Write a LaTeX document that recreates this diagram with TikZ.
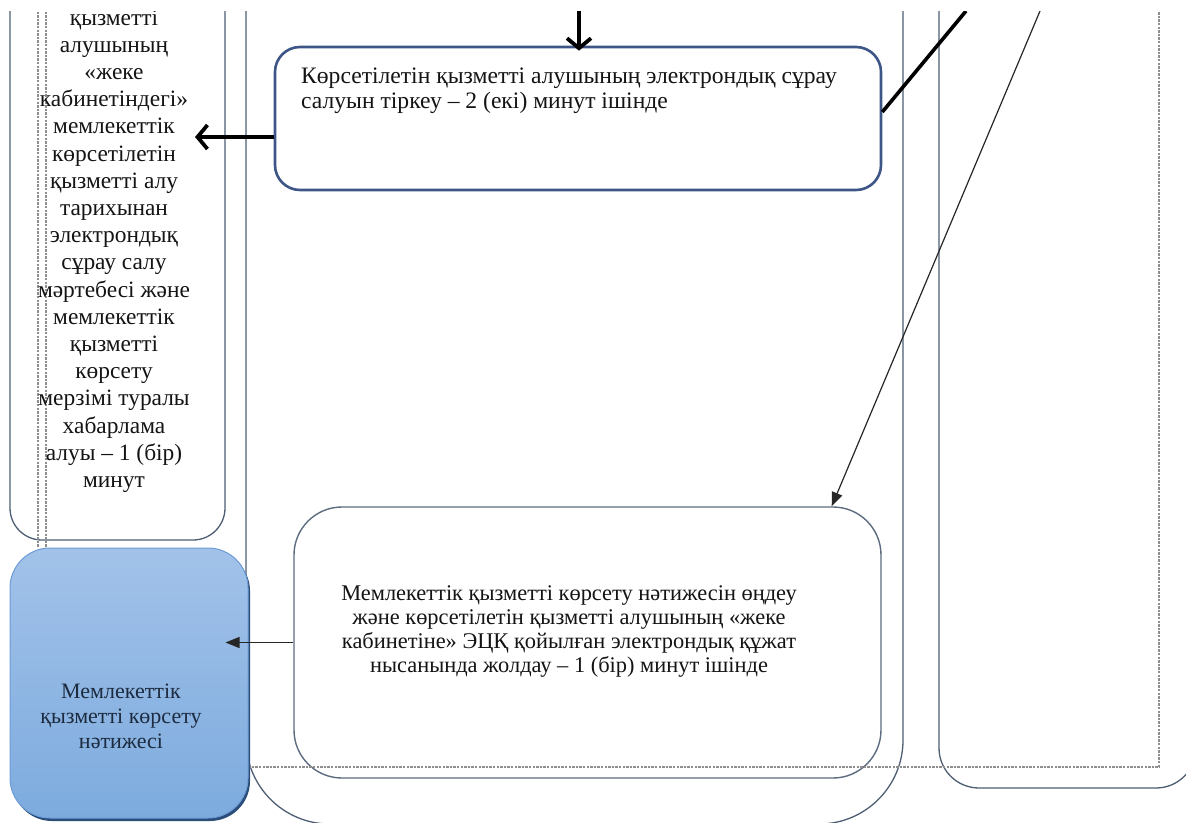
\documentclass[tikz,border=0pt]{standalone}
\usepackage{fontspec}
\setmainfont{Liberation Serif}
\usetikzlibrary{arrows.meta,calc,shadows}

\definecolor{lanec}{HTML}{4D5D73}
\definecolor{boxAc}{HTML}{3E5587}
\definecolor{boxBc}{HTML}{5D6C80}
\definecolor{dashc}{HTML}{8E8E8E}
\definecolor{bluetop}{HTML}{A2C2E9}
\definecolor{bluemid}{HTML}{4A87CE}
\definecolor{bluebot}{HTML}{7DABDE}
\definecolor{blueedge}{HTML}{6D9BD5}
\definecolor{blueshadow}{HTML}{2A4D7A}
\definecolor{inkc}{HTML}{141414}
\definecolor{inkblue}{HTML}{1C2B3F}

\newcommand{\linesC}[1]{\begin{tabular}[t]{@{}c@{}}#1\end{tabular}}
\newcommand{\linesL}[1]{\begin{tabular}[t]{@{}l@{}}#1\end{tabular}}

\begin{document}
\begin{tikzpicture}[x=1pt,y=-1pt,
  lane/.style={draw=lanec,line width=1.3pt},
  dashborder/.style={draw=dashc,line width=2pt,dash pattern=on 2.4pt off 1.2pt},
  stepbox/.style={draw=boxAc,line width=2.6pt,rounded corners=25pt,inner sep=0pt,fill=white},
  procbox/.style={draw=boxBc,line width=1.4pt,rounded corners=48pt,inner sep=0pt,fill=white},
  resultbox/.style={draw=blueedge,line width=1pt,rounded corners=40pt,inner sep=0pt,
    top color=bluetop,middle color=bluemid,bottom color=bluebot,
    drop shadow={shadow xshift=2pt,shadow yshift=-3pt,fill=blueshadow,opacity=1}},
  txt/.style={inner sep=0pt,text=inkc},
  heavyarrow/.style={draw=black,line width=3.6pt,-{Straight Barb[length=10pt,width=24pt,line width=3.8pt]}},
  heavyline/.style={draw=black,line width=3.6pt},
  lightarrow/.style={draw=black!85,line width=1.2pt,-{Triangle[length=14pt,width=11pt]}}
]
\useasboundingbox (0,0) rectangle (1186,822);
\begin{scope}
\clip (0,11) rectangle (1186,830);

% swimlanes
\draw[lane,rounded corners=32pt] (10,-100) -- (10,540) -- (225,540) -- (225,-100);
\draw[lane,rounded corners=84pt] (246,-100) -- (246,824) -- (903,824) -- (903,-100);
\draw[lane,rounded corners=40pt] (939,-100) -- (939,788) -- (1196,788) -- (1196,-100);

% process steps
\node[stepbox,minimum width=606pt,minimum height=143pt] (A) at (578,118.5) {};
\node[txt,anchor=base west,font=\fontsize{23.6}{25}\selectfont] (Atext) at (301,83)
  {\linesL{Көрсетілетін қызметті алушының электрондық сұрау\\
  салуын тіркеу – 2 (екі) минут ішінде}};

\node[procbox,minimum width=587pt,minimum height=271pt] (B) at (587.5,642.5) {};
\node[txt,anchor=base,font=\fontsize{22.4}{24}\selectfont] (Btext) at (569,600)
  {\linesC{Мемлекеттік қызметті көрсету нәтижесін өңдеу\\
  және көрсетілетін қызметті алушының «жеке\\
  кабинетіне» ЭЦҚ қойылған электрондық құжат\\
  нысанында жолдау – 1 (бір) минут ішінде}};

% page frame
\draw[dashborder] (46,-100) -- (46,767) -- (1159,767) -- (1159,-100);
\draw[dashborder] (38,-100) -- (38,548);

% notification text in the left lane
\node[txt,anchor=base,font=\fontsize{23.4}{27.2}\selectfont] (Ltext) at (114,25)
  {\linesC{қызметті\\ алушының\\ «жеке\\ кабинетіндегі»\\ мемлекеттік\\
  көрсетілетін\\ қызметті алу\\ тарихынан\\ электрондық\\ сұрау салу\\
  мәртебесі және\\ мемлекеттік\\ қызметті\\ көрсету\\ мерзімі туралы\\
  хабарлама\\ алуы – 1 (бір)\\ минут}};

% connectors
\coordinate (inA) at (579,11);
\draw[heavyarrow] (inA) -- ($(A.north -| inA)+(0,5)$);

\coordinate (toL) at (195,137);
\draw[heavyarrow] (A.west |- toL) -- (toL);

\coordinate (upR) at (966,11);
\draw[heavyline] ($(A.east)+(0,-6.5)$) -- (upR);

\coordinate (fromR) at (1040,11);
\draw[lightarrow] (fromR) -- ($(B.north east)+(-50,0)$);

% result
\node[resultbox,minimum width=238pt,minimum height=270pt] (C) at (129,683) {};
\node[txt,text=inkblue,anchor=base,font=\fontsize{22}{25}\selectfont] (Ctext) at (121,698)
  {\linesC{Мемлекеттік\\ қызметті көрсету\\ нәтижесі}};

\draw[lightarrow] (B.west) -- ($(C.east |- B.west)+(-23,0)$);
\end{scope}
\end{tikzpicture}
\end{document}
